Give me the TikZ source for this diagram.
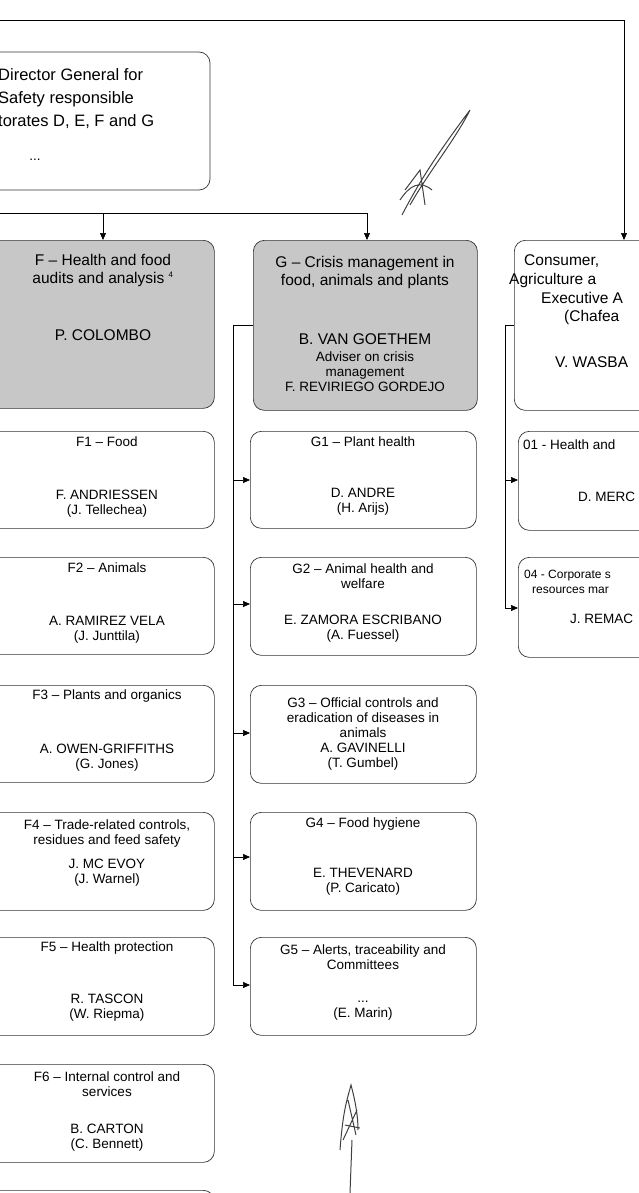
\documentclass[tikz,border=0pt]{standalone}
\usepackage{fontspec}
\setmainfont{Liberation Sans}
\usetikzlibrary{arrows.meta}
\begin{document}
\begin{tikzpicture}[x=1pt,y=-1pt,
  box/.style={draw=black!80,rounded corners=11pt,line width=0.7pt},
  gbox/.style={box,fill=black!22},
  t/.style={font=\fontsize{13.5}{15}\selectfont,inner sep=0pt,align=center},
  tb/.style={font=\fontsize{15.5}{18}\selectfont,inner sep=0pt,align=center},
  ts/.style={font=\fontsize{12}{12}\selectfont,inner sep=0pt,align=center},
  arr/.style={-{Triangle[length=7pt,width=6pt]},line width=0.6pt},
  ln/.style={line width=0.6pt},
  sig/.style={line width=1pt,black!75}]
\useasboundingbox (0,0) rectangle (638,1193);
% boxes
\draw[box] (-20,52) rectangle (210,190);
\node[t,font=\fontsize{16.5}{20}\selectfont,anchor=west] (dg1) at (-2,75) {Director General for};
\node[t,font=\fontsize{16.5}{20}\selectfont,anchor=west] (dg2) at (-2,99) {Safety responsible};
\node[t,font=\fontsize{16.5}{20}\selectfont,anchor=west] (dg3) at (-2,122) {torates D, E, F and G};
\node[t] (dg4) at (35,160) {...};
\node[gbox,minimum width=234pt,minimum height=168pt,anchor=north west] (F) at (-20,240) {};
\node[gbox,minimum width=224pt,minimum height=170pt,anchor=north west] (G) at (253,240) {};
\node[box,minimum width=140pt,minimum height=170pt,anchor=north west] (C) at (514,240) {};
\node[tb] at (103,270) {F -- Health and food\\audits and analysis \textsuperscript{\fontsize{8}{8}\selectfont 4}};
\node[tb] at (103,335) {P. COLOMBO};
\node[tb] at (365,272) {G -- Crisis management in\\food, animals and plants};
\node[tb] at (365,339) {B. VAN GOETHEM};
\node[t] at (365,372) {Adviser on crisis\\management\\F. REVIRIEGO GORDEJO};
\node[tb,anchor=west] at (524,261) {Consumer,};
\node[tb,anchor=west] at (509,280) {Agriculture a};
\node[tb,anchor=west] at (541,298) {Executive A};
\node[tb,anchor=west] at (564,317) {(Chafea};
\node[tb,anchor=west] at (555,362) {V. WASBA};
% top connectors
\coordinate (top0) at (0,20); \coordinate (top1) at (624,20);
\draw[ln] (top0) -- (top1);
\draw[arr] (top1) -- (C.north -| top1);
\coordinate (h0) at (0,213); \coordinate (hf) at (103,213); \coordinate (hg) at (367,213);
\draw[ln] (h0) -- (hg);
\draw[arr] (hf) -- (hf |- F.north);
\draw[arr] (hg) -- (hg |- G.north);
% F column
\foreach \n/\y/\a/\b/\c in {F1/431/F1 -- Food/F. ANDRIESSEN/(J. Tellechea),
  F2/557/F2 -- Animals/A. RAMIREZ VELA/(J. Junttila),
  F3/685/F3 -- Plants and organics/A. OWEN-GRIFFITHS/(G. Jones)}{
  \node[box,minimum width=234pt,minimum height=97pt,anchor=north west] (\n) at (-20,\y) {};
  \node[t] at (107,\y+11) {\a};
  \node[t] at (107,\y+64) {\b};
  \node[t] at (107,\y+80) {\c};}
\node[box,minimum width=234pt,minimum height=98pt,anchor=north west] (F4) at (-20,812) {};
\node[t] at (107,833) {F4 -- Trade-related controls,\\residues and feed safety};
\node[t] at (107,873) {J. MC EVOY\\(J. Warnel)};
\node[box,minimum width=234pt,minimum height=98pt,anchor=north west] (F5) at (-20,937) {};
\node[t] at (107,948) {F5 -- Health protection};
\node[t] at (107,1008) {R. TASCON\\(W. Riepma)};
\node[box,minimum width=234pt,minimum height=98pt,anchor=north west] (F6) at (-20,1064) {};
\node[t] at (107,1084) {F6 -- Internal control and\\services};
\node[t] at (107,1138) {B. CARTON\\(C. Bennett)};
\node[box,minimum width=234pt,minimum height=98pt,anchor=north west] (F7) at (-20,1190) {};
% G column
\node[box,minimum width=226pt,minimum height=97pt,anchor=north west] (G1) at (250,431) {};
\node[t] at (363,442) {G1 -- Plant health};
\node[t] at (363,502) {D. ANDRE\\(H. Arijs)};
\node[box,minimum width=226pt,minimum height=98pt,anchor=north west] (G2) at (250,557) {};
\node[t] at (363,576) {G2 -- Animal health and\\welfare};
\node[t] at (363,629) {E. ZAMORA ESCRIBANO\\(A. Fuessel)};
\node[box,minimum width=226pt,minimum height=98pt,anchor=north west] (G3) at (250,685) {};
\node[t] at (363,734) {G3 -- Official controls and\\eradication of diseases in\\animals\\A. GAVINELLI\\(T. Gumbel)};
\node[box,minimum width=226pt,minimum height=98pt,anchor=north west] (G4) at (250,812) {};
\node[t] at (363,824) {G4 -- Food hygiene};
\node[t] at (363,882) {E. THEVENARD\\(P. Caricato)};
\node[box,minimum width=226pt,minimum height=98pt,anchor=north west] (G5) at (250,937) {};
\node[t] at (363,957) {G5 -- Alerts, traceability and\\Committees};
\node[t] at (363,1011) {...\\(E. Marin)};
% C column
\node[box,minimum width=140pt,minimum height=99pt,anchor=north west] (C1) at (518,431) {};
\node[t,anchor=west] at (523,445) {01 - Health and};
\node[t,anchor=west] at (578,497) {D. MERC};
\node[box,minimum width=140pt,minimum height=100pt,anchor=north west] (C4) at (518,557) {};
\node[ts,anchor=west] at (524,576) {04 - Corporate s};
\node[ts,anchor=west] at (532,590) {resources mar};
\node[t,anchor=west] at (570,619) {J. REMAC};
% brackets
\coordinate (gb) at (233,325); \coordinate (gbb) at (233,985);
\draw[ln] (G.west |- gb) -- (gb) -- (gbb);
\foreach \n/\y in {G1/480,G2/604,G3/733,G4/857,G5/985}{\draw[arr] (233,\y) -- (\n.west |- 0,\y);}
\coordinate (cb) at (505,325); \coordinate (cbb) at (505,608);
\draw[ln] (C.west |- cb) -- (cb) -- (cbb);
\draw[arr] (505,480) -- (C1.west |- 0,480);
\draw[arr] (505,608) -- (C4.west |- 0,608);
% signatures
\draw[sig] (402,215) .. controls (420,180) and (440,150) .. (470,110) .. controls (455,140) and (430,170) .. (410,205)
  (400,200) .. controls (410,185) and (420,180) .. (432,190) (405,190) -- (420,170) -- (425,205);
\draw[sig] (350,1193) -- (352,1140) (340,1150) .. controls (343,1110) and (347,1100) .. (351,1085) .. controls (355,1100) and (358,1115) .. (358,1130)
  (343,1140) -- (357,1110) (345,1125) -- (360,1128) (348,1100) -- (356,1135);
\end{tikzpicture}
\end{document}
